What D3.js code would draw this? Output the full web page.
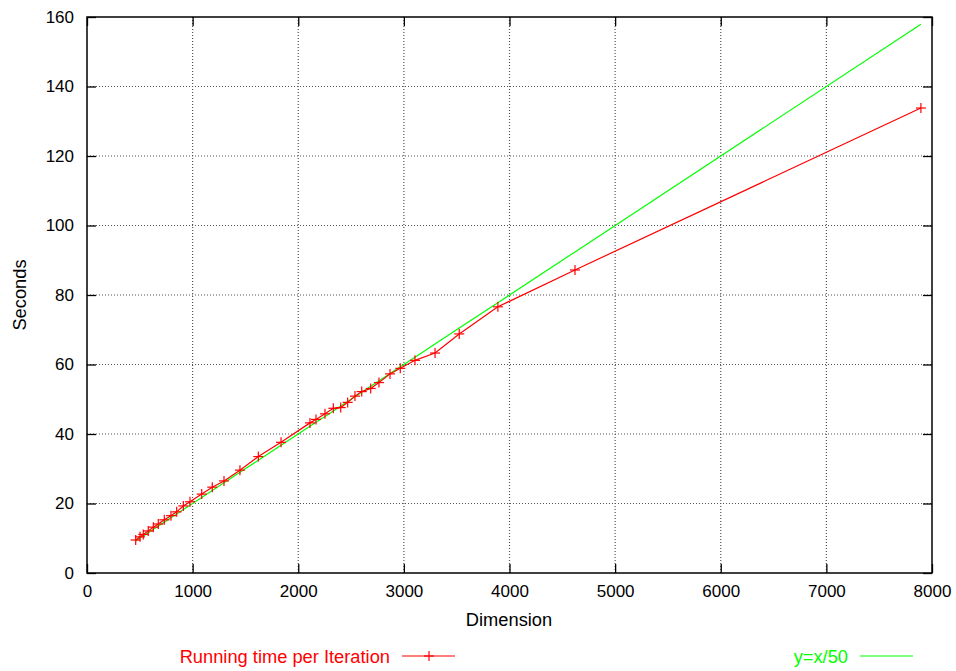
<!DOCTYPE html>
<html>
<head>
<meta charset="utf-8">
<script src="https://cdn.jsdelivr.net/npm/d3@7"></script>
<style>
  html, body { margin: 0; padding: 0; background: #fff; }
  svg { display: block; font-family: "Liberation Sans", Arial, Helvetica, sans-serif; }
</style>
</head>
<body>
<svg id="chart" width="956" height="671"></svg>
<script>
// Measured running time per iteration against matrix dimension
const dimension = [461, 502, 533, 580, 628, 675, 732, 795, 849, 912, 975, 1086, 1186, 1297,
  1448, 1622, 1837, 2111, 2168, 2253, 2332, 2402, 2468, 2537, 2601, 2686, 2764, 2869,
  2966, 3105, 3295, 3524, 3890, 4620, 7895];
const seconds = [9.5, 10.4, 11.1, 12.1, 13.2, 14.1, 15.3, 16.5, 17.6, 19.3, 20.5, 22.7, 24.7, 26.5,
  29.6, 33.5, 37.6, 43.2, 44.2, 45.8, 47.4, 47.6, 49.1, 50.9, 52.2, 53.1, 54.8, 57.3,
  58.9, 61.2, 63.3, 68.8, 76.6, 87.2, 133.8];

const xTicks = [0, 1000, 2000, 3000, 4000, 5000, 6000, 7000, 8000];
const yTicks = [0, 20, 40, 60, 80, 100, 120, 140, 160];

const seriesLabel = "Running time per Iteration";
const refLabel = "y=x/50";
const xTitle = "Dimension";
const yTitle = "Seconds";

const svg = d3.select("#chart");
const plotLeft = 87, plotRight = 932, plotTop = 17, plotBottom = 573;

const x = d3.scaleLinear().domain([0, 8000]).range([plotLeft, plotRight]);
const y = d3.scaleLinear().domain([0, 160]).range([plotBottom, plotTop]);

const fontSize = 17;      // tick labels
const labelSize = 18.3;   // axis titles and legend

// Grid (dotted)
const grid = svg.append("g");
grid.selectAll("line.gx").data(xTicks.slice(1, -1)).enter().append("line")
  .attr("x1", d => x(d)).attr("x2", d => x(d))
  .attr("y1", plotBottom).attr("y2", plotTop)
  .attr("stroke", "#555").attr("stroke-width", 1.2).attr("stroke-dasharray", "1,2");
grid.selectAll("line.gy").data(yTicks.slice(1, -1)).enter().append("line")
  .attr("x1", plotLeft).attr("x2", plotRight)
  .attr("y1", d => y(d)).attr("y2", d => y(d))
  .attr("stroke", "#555").attr("stroke-width", 1.2).attr("stroke-dasharray", "1,2");

// Axes with inward ticks, mirrored on top and right
const tickLen = 9;
const xAxisB = d3.axisBottom(x).tickValues(xTicks).tickSizeInner(-tickLen).tickSizeOuter(0).tickPadding(tickLen + 3).tickFormat(d3.format("d"));
const xAxisT = d3.axisTop(x).tickValues(xTicks).tickSizeInner(-tickLen).tickSizeOuter(0).tickFormat("");
const yAxisL = d3.axisLeft(y).tickValues(yTicks).tickSizeInner(-tickLen).tickSizeOuter(0).tickPadding(tickLen + 4).tickFormat(d3.format("d"));
const yAxisR = d3.axisRight(y).tickValues(yTicks).tickSizeInner(-tickLen).tickSizeOuter(0).tickFormat("");

function styleAxis(g) {
  g.select(".domain").remove();
  g.selectAll(".tick line").attr("stroke", "#000").attr("stroke-width", 1.3);
  g.selectAll(".tick text").attr("fill", "#000").style("font-size", fontSize + "px")
    .style("font-family", "'Liberation Sans', Arial, sans-serif");
}
svg.append("g").attr("transform", `translate(0,${plotBottom})`).call(xAxisB).call(styleAxis);
svg.append("g").attr("transform", `translate(0,${plotTop})`).call(xAxisT).call(styleAxis);
svg.append("g").attr("transform", `translate(${plotLeft},0)`).call(yAxisL).call(styleAxis);
svg.append("g").attr("transform", `translate(${plotRight},0)`).call(yAxisR).call(styleAxis);

// Frame
svg.append("rect").attr("x", plotLeft).attr("y", plotTop)
  .attr("width", plotRight - plotLeft).attr("height", plotBottom - plotTop)
  .attr("fill", "none").attr("stroke", "#000").attr("stroke-width", 1.5);

// Axis titles
svg.append("text").attr("x", 509).attr("y", 626)
  .attr("text-anchor", "middle").style("font-size", labelSize + "px").text(xTitle);
svg.append("text").attr("transform", `translate(26,${(plotTop + plotBottom) / 2}) rotate(-90)`)
  .attr("text-anchor", "middle").style("font-size", labelSize + "px").text(yTitle);

// Reference line y = x/50 over the measured range
const refLine = d3.line().x(d => x(d)).y(d => y(d / 50));
svg.append("path").datum(dimension).attr("d", refLine)
  .attr("fill", "none").attr("stroke", "#00ff00").attr("stroke-width", 1.2);

// Measured series: line plus "+" markers
const pts = dimension.map((d, i) => [d, seconds[i]]);
const dataLine = d3.line().x(d => x(d[0])).y(d => y(d[1]));
svg.append("path").datum(pts).attr("d", dataLine)
  .attr("fill", "none").attr("stroke", "#ff0000").attr("stroke-width", 1.2);

const m = 5;
function plus(g, cx, cy) {
  g.append("line").attr("x1", cx - m).attr("x2", cx + m).attr("y1", cy).attr("y2", cy);
  g.append("line").attr("x1", cx).attr("x2", cx).attr("y1", cy - m).attr("y2", cy + m);
}
const marks = svg.append("g").attr("stroke", "#ff0000").attr("stroke-width", 1.2);
pts.forEach(p => plus(marks, x(p[0]), y(p[1])));

// Legend
const ly = 656;
svg.append("text").attr("x", 390).attr("y", ly + 7).attr("text-anchor", "end")
  .attr("fill", "#ff0000").style("font-size", labelSize + "px").text(seriesLabel);
svg.append("line").attr("x1", 402).attr("x2", 455).attr("y1", ly).attr("y2", ly)
  .attr("stroke", "#ff0000").attr("stroke-width", 1.2);
const lm = svg.append("g").attr("stroke", "#ff0000").attr("stroke-width", 1.2);
plus(lm, 429, ly);

svg.append("text").attr("x", 848).attr("y", ly + 7).attr("text-anchor", "end")
  .attr("fill", "#00ff00").style("font-size", labelSize + "px").text(refLabel);
svg.append("line").attr("x1", 860).attr("x2", 913).attr("y1", ly).attr("y2", ly)
  .attr("stroke", "#00ff00").attr("stroke-width", 1.2);
</script>
</body>
</html>
